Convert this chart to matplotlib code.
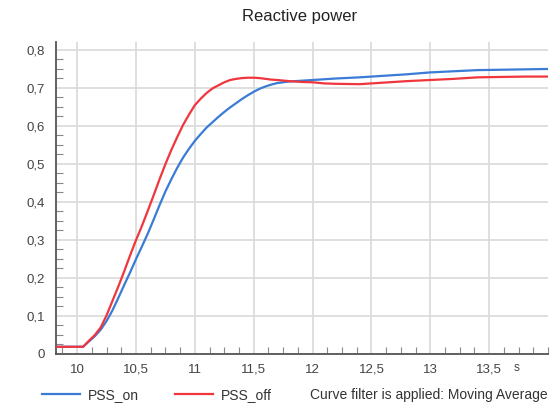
import matplotlib
matplotlib.use("Agg")
import matplotlib.pyplot as plt
from matplotlib.ticker import MultipleLocator, FuncFormatter, FixedLocator
from matplotlib.lines import Line2D

plt.rcParams['font.family'] = ['Liberation Sans', 'DejaVu Sans']

# Time axis (s)
time = [9.82, 10.0, 10.05, 10.1, 10.15, 10.2, 10.25, 10.3, 10.35, 10.4, 10.45,
        10.5, 10.55, 10.6, 10.65, 10.7, 10.75, 10.8, 10.85, 10.9, 10.95, 11.0,
        11.05, 11.1, 11.15, 11.2, 11.25, 11.3, 11.35, 11.4, 11.45, 11.5, 11.55,
        11.6, 11.65, 11.7, 11.8, 11.9, 12.0, 12.1, 12.2, 12.4, 12.6, 12.8, 13.0,
        13.2, 13.4, 13.6, 13.8, 14.0]

pss_on = [0.019, 0.019, 0.019,
          0.033, 0.047, 0.064, 0.087, 0.115, 0.148, 0.182, 0.215, 0.25, 0.283,
          0.317, 0.354, 0.392, 0.428, 0.46, 0.49, 0.517, 0.54, 0.561, 0.579,
          0.596, 0.61, 0.624, 0.637, 0.649, 0.66, 0.671, 0.681, 0.69, 0.698,
          0.704, 0.709, 0.713,
          0.717, 0.719, 0.721, 0.723, 0.725, 0.728, 0.732, 0.736, 0.741, 0.744,
          0.747, 0.748, 0.749, 0.75]

pss_off = [0.019, 0.019, 0.019,
           0.035, 0.05, 0.07, 0.102, 0.14, 0.178, 0.218, 0.26, 0.30, 0.337,
           0.377, 0.418, 0.46, 0.50, 0.537, 0.571, 0.603, 0.63, 0.655, 0.672,
           0.687, 0.699, 0.707, 0.715, 0.721, 0.724, 0.726, 0.727, 0.727, 0.726,
           0.724, 0.722, 0.721,
           0.718, 0.716, 0.715, 0.712, 0.711, 0.710, 0.714, 0.718, 0.721, 0.724,
           0.728, 0.729, 0.73, 0.73]

series_labels = ["PSS_on", "PSS_off"]
x_ticks = [10, 10.5, 11, 11.5, 12, 12.5, 13, 13.5]
title = "Reactive power"
unit = "s"
note = "Curve filter is applied: Moving Average"

BLUE = "#3a7bd5"
RED = "#f0353d"
TXT = "#444444"

W, H = 554, 404
fig = plt.figure(figsize=(W / 100, H / 100), dpi=100)
ax = fig.add_axes([56 / W, 1 - 354 / H, (548 - 56) / W, (354 - 42) / H])

ax.plot(time, pss_on, color=BLUE, lw=1.6, zorder=3)
ax.plot(time, pss_off, color=RED, lw=1.6, zorder=3)

ax.set_xlim(9.82, 14.0)
ax.set_ylim(0, 0.821)

ax.xaxis.set_major_locator(FixedLocator(x_ticks))
ax.xaxis.set_minor_locator(MultipleLocator(0.125))
ax.yaxis.set_major_locator(MultipleLocator(0.1))
ax.yaxis.set_minor_locator(MultipleLocator(0.025))

fmt = FuncFormatter(lambda v, p: ("%g" % round(v, 3)).replace(".", ","))
ax.xaxis.set_major_formatter(fmt)
ax.yaxis.set_major_formatter(fmt)

ax.grid(True, which='major', color='#d9d9d9', lw=1.2, zorder=0)
ax.set_axisbelow(True)

for s in ['top', 'right']:
    ax.spines[s].set_visible(False)
for s in ['left', 'bottom']:
    ax.spines[s].set_color('#555555')
    ax.spines[s].set_linewidth(1.3)

ax.tick_params(which='major', length=0, labelsize=9.5, labelcolor=TXT)
ax.tick_params(axis='y', which='major', pad=8)
ax.tick_params(axis='x', which='major', pad=7)
ax.tick_params(which='minor', direction='in', length=5, width=0.8, color='#888888')

fig.text(300 / W, 1 - 17 / H, title, ha='center', va='center', fontsize=12, color='#222222')
fig.text(517 / W, 1 - 368 / H, unit, ha='center', va='center', fontsize=8.5, color=TXT)

handles = [Line2D([], [], color=BLUE, lw=1.6), Line2D([], [], color=RED, lw=1.6)]
fig.legend(handles, series_labels, loc='center left', bbox_to_anchor=(35 / W, 1 - 395 / H),
           ncol=2, frameon=False, fontsize=10, handlelength=2.75, handletextpad=0.55,
           columnspacing=2.6, labelcolor='#333333', borderpad=0)
fig.text(548 / W, 1 - 395 / H, note, ha='right', va='center', fontsize=10, color='#333333')

fig.savefig("out.png", dpi=100)
